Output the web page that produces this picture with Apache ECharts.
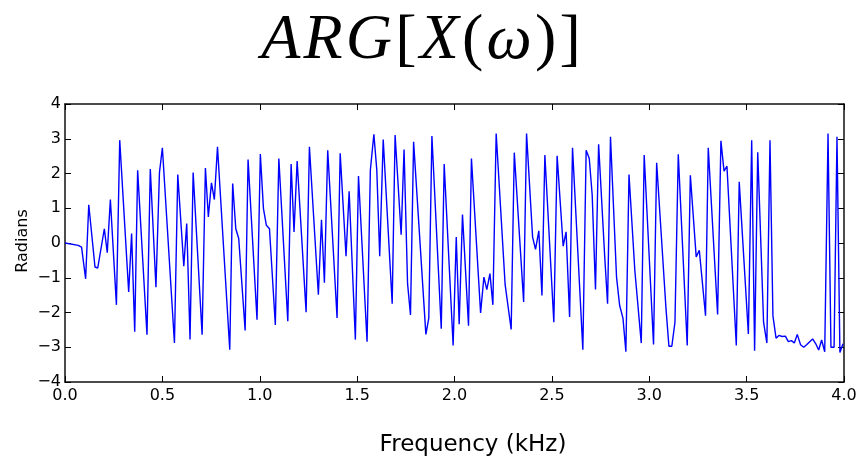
<!DOCTYPE html>
<html>
<head>
<meta charset="utf-8">
<script src="https://cdn.jsdelivr.net/npm/echarts@6/dist/echarts.min.js"></script>
<style>html,body{margin:0;padding:0;background:#fff}#c{width:861px;height:461px}</style>
</head>
<body>
<div id="c"></div>
<script>
// Frequency (kHz) of each traced vertex
const freqs = [0.000,0.068,0.085,0.106,0.122,0.154,0.168,0.202,0.217,0.233,0.264,0.281,0.327,0.342,0.358,0.373,0.421,0.438,0.467,0.485,0.500,0.562,0.579,0.610,0.625,0.642,0.658,0.704,0.721,0.736,0.752,0.767,0.783,0.846,0.861,0.877,0.892,0.925,0.940,0.986,1.003,1.019,1.034,1.050,1.080,1.098,1.144,1.161,1.176,1.192,1.238,1.255,1.301,1.317,1.332,1.349,1.397,1.413,1.443,1.459,1.491,1.507,1.551,1.568,1.586,1.601,1.616,1.634,1.680,1.695,1.726,1.741,1.759,1.774,1.790,1.853,1.868,1.884,1.932,1.947,1.993,2.009,2.024,2.041,2.072,2.087,2.134,2.151,2.166,2.182,2.197,2.214,2.260,2.291,2.307,2.355,2.370,2.401,2.416,2.433,2.449,2.464,2.510,2.527,2.558,2.573,2.591,2.606,2.659,2.676,2.692,2.707,2.724,2.740,2.771,2.786,2.801,2.832,2.848,2.865,2.880,2.896,2.926,2.959,2.974,3.022,3.038,3.086,3.101,3.116,3.132,3.149,3.195,3.211,3.241,3.257,3.289,3.303,3.351,3.368,3.384,3.399,3.447,3.462,3.509,3.526,3.541,3.557,3.587,3.604,3.620,3.635,3.651,3.666,3.682,3.699,3.714,3.730,3.745,3.760,3.777,3.793,3.808,3.824,3.839,3.855,3.870,3.885,3.901,3.918,3.933,3.949,3.964,3.979,3.995];
// Phase (radians) at each vertex
const phases = [0.00,-0.07,-0.12,-1.03,1.10,-0.69,-0.72,0.41,-0.28,1.25,-1.78,2.96,-1.41,0.27,-2.55,2.09,-2.64,2.13,-1.27,2.03,2.74,-2.88,1.97,-0.67,0.56,-2.78,2.03,-2.64,2.16,0.75,1.73,1.25,2.77,-3.07,1.71,0.41,0.13,-2.52,2.40,-2.21,2.56,0.99,0.51,0.41,-2.36,2.43,-2.25,2.27,0.32,2.36,-1.99,2.77,-1.49,0.67,-1.14,2.67,-2.16,2.58,-0.38,1.49,-2.78,1.93,-2.84,2.10,3.13,2.10,-0.38,2.98,-1.75,3.11,0.24,2.69,-1.17,-2.07,2.91,-2.63,-2.16,3.08,-2.47,2.27,-2.95,0.17,-2.34,0.82,-2.38,2.43,-2.01,-0.98,-1.34,-0.88,-1.78,3.15,-1.20,-2.49,2.60,-1.70,3.15,0.17,-0.18,0.35,-1.51,2.53,-2.28,2.51,-0.09,0.32,-2.13,2.74,-3.07,2.67,2.43,1.38,-1.34,2.84,-0.36,-1.75,3.06,-0.98,-1.80,-2.16,-3.13,1.97,-0.79,-2.88,2.53,-2.92,2.31,-1.89,-2.97,-2.97,-2.28,2.55,-2.95,1.95,-0.40,-0.21,-2.09,2.74,-2.06,2.94,2.07,2.21,-2.95,1.76,-2.62,2.96,-3.10,2.61,-2.28,-2.88,2.96,-2.09,-2.74,-2.66,-2.69,-2.68,-2.84,-2.81,-2.88,-2.63,-2.93,-3.00,-2.93,-2.84,-2.76,-2.90,-3.08,-2.79,-3.13,3.15,-3.00,-3.00,3.06,-3.15,-2.90];

const titleParts = [['A', 'i'], ['R', 'i'], ['G', 'i'], ['[', 'n'], ['X', 'i'], ['(', 'n'], ['ω', 'i'], [')', 'n'], [']', 'n']];
const xLabel = "Frequency (kHz)";
const yLabel = "Radians";

const chart = echarts.init(document.getElementById('c'), null, {renderer: 'canvas'});
const tickFont = {fontFamily: 'DejaVu Sans', fontSize: 16, color: '#000'};
const frame = {show: true, onZero: false, lineStyle: {color: '#111', width: 1.5}};
const tick = {show: true, inside: true, length: 6, lineStyle: {color: '#000', width: 1}};

const titleRich = {
  i: {fontFamily: 'Liberation Serif', fontStyle: 'italic', fontSize: 64, fill: '#000', padding: [0, 1.6]},
  n: {fontFamily: 'Liberation Serif', fontSize: 64, fill: '#000', padding: [0, 1.6]}
};

chart.setOption({
  animation: false,
  backgroundColor: '#fff',
  grid: {left: 65, right: 17, top: 104, bottom: 79, containLabel: false},
  xAxis: [
    {type: 'value', min: 0, max: 4, interval: 0.5, position: 'bottom',
     axisLine: frame, axisTick: tick, splitLine: {show: false},
     axisLabel: Object.assign({margin: 6, formatter: v => v.toFixed(1)}, tickFont)},
    {type: 'value', min: 0, max: 4, interval: 0.5, position: 'top',
     axisLine: frame, axisTick: tick, splitLine: {show: false}, axisLabel: {show: false}}
  ],
  yAxis: [
    {type: 'value', min: -4, max: 4, interval: 1, position: 'left',
     axisLine: frame, axisTick: tick, splitLine: {show: false},
     axisLabel: Object.assign({margin: 4, formatter: v => String(v).replace('-', '\u2212')}, tickFont)},
    {type: 'value', min: -4, max: 4, interval: 1, position: 'right',
     axisLine: frame, axisTick: tick, splitLine: {show: false}, axisLabel: {show: false}}
  ],
  series: [{
    type: 'line',
    data: freqs.map((f, i) => [f, phases[i]]),
    showSymbol: false,
    lineStyle: {color: '#0000ff', width: 1.4},
    itemStyle: {color: '#0000ff'}
  }],
  graphic: [
    {type: 'text', x: 421, y: 41,
     style: {text: titleParts.map(p => '{' + p[1] + '|' + p[0] + '}').join(''), align: 'center', verticalAlign: 'middle',
       rich: titleRich}},
    {type: 'text', x: 473, y: 445,
     style: {text: xLabel, align: 'center', verticalAlign: 'middle', fontFamily: 'DejaVu Sans', fontSize: 23, fill: '#000'}},
    {type: 'text', x: 23, y: 241, rotation: Math.PI / 2,
     style: {text: yLabel, align: 'center', verticalAlign: 'middle', fontFamily: 'DejaVu Sans', fontSize: 16, fill: '#000'}}
  ]
});
</script>
</body>
</html>
